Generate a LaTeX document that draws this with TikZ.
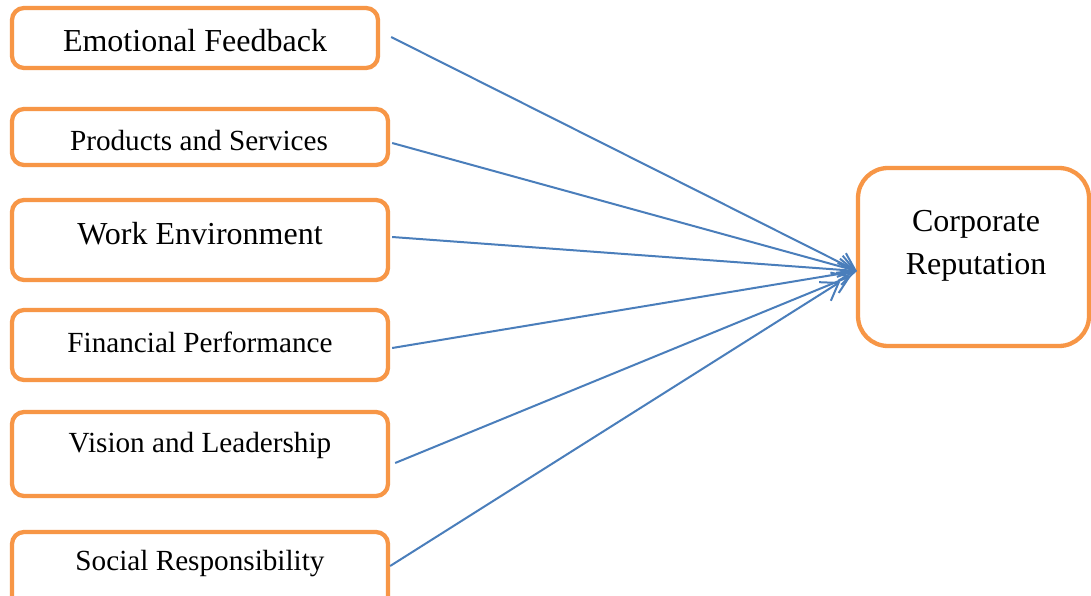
\documentclass[tikz,border=0pt]{standalone}
\usepackage{fontspec}
\setmainfont{Liberation Serif}
\usetikzlibrary{arrows.meta}
\definecolor{boxorange}{HTML}{F79646}
\definecolor{linkblue}{HTML}{4A7EBB}
\tikzset{
  factor/.style={draw=boxorange, line width=4.3pt, rounded corners=12pt,
    fill=white, minimum width=376pt, inner sep=0pt},
  outcome/.style={draw=boxorange, line width=4.3pt, rounded corners=30pt,
    fill=white, inner sep=0pt},
  bigtxt/.style={font=\fontsize{32}{37}\selectfont, align=center, inner sep=0pt},
  smalltxt/.style={font=\fontsize{29.2}{34}\selectfont, inner sep=0pt},
  link/.style={draw=linkblue, line width=2pt,
    -{Straight Barb[length=16pt,width=22pt,line width=2pt]}}
}
\begin{document}
\begin{tikzpicture}[x=1pt,y=-1pt]
  \useasboundingbox (0,0) rectangle (1091,596);
  \clip (0,0) rectangle (1091,596);
  \fill[white] (0,0) rectangle (1091,596);

  % driver boxes
  \node[factor, minimum width=366pt, minimum height=60pt] (b1) at (195,38) {};
  \node[factor, minimum height=56pt] (b2) at (200,137) {};
  \node[factor, minimum height=80pt] (b3) at (200,240) {};
  \node[factor, minimum height=70pt] (b4) at (200,345) {};
  \node[factor, minimum height=84pt] (b5) at (200,454) {};
  \node[factor, minimum height=80pt] (b6) at (200,572) {};

  % outcome box
  \node[outcome, minimum width=231pt, minimum height=178pt] (cr) at (973.5,257) {};

  % labels
  \node[bigtxt] (t1) at (195,41) {Emotional Feedback};
  \node[smalltxt] (t2) at (199,141) {Products and Services};
  \node[bigtxt] (t3) at (200,234) {Work Environment};
  \node[smalltxt] (t4) at (200,342) {Financial Performance};
  \node[smalltxt] (t5) at (200,445) {Vision and Leadership};
  \node[smalltxt] (t6) at (200,564) {Social Responsibility};
  \node[bigtxt] (tc) at (976,246) {Corporate\\[6pt]Reputation};

  % arrow ends near the outcome box
  \coordinate (e5) at (851,276);
  \coordinate (e6) at (840,282);

  % influences
  \draw[link] ([xshift=11pt,yshift=1pt]b1.east) -- ([xshift=1pt,yshift=-14pt]cr.west);
  \draw[link] ([xshift=2pt,yshift=-6pt]b2.east) -- ([xshift=1pt,yshift=-14pt]cr.west);
  \draw[link] ([xshift=2pt,yshift=3pt]b3.east) -- ([xshift=1pt,yshift=-14pt]cr.west);
  \draw[link] ([xshift=2pt,yshift=-3pt]b4.east) -- ([xshift=1pt,yshift=-14pt]cr.west);
  \draw[link] ([xshift=5pt,yshift=-9pt]b5.east) -- (e5);
  \draw[link] ([xshift=0pt,yshift=6pt]b6.east) -- (e6);
\end{tikzpicture}
\end{document}
